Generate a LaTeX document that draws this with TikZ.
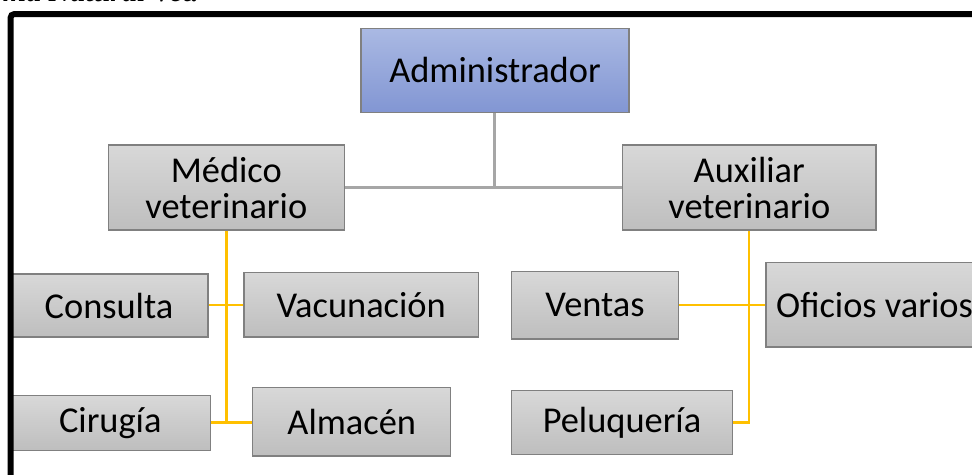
\documentclass[tikz,border=0pt]{standalone}
\usepackage{fontspec}
\setmainfont{Carlito}
\newfontfamily\capfont{Liberation Serif}
\definecolor{admtop}{RGB}{170,185,227}
\definecolor{admbot}{RGB}{130,150,211}
\definecolor{grytop}{RGB}{216,216,216}
\definecolor{grybot}{RGB}{190,190,190}
\definecolor{bordc}{RGB}{128,128,128}
\definecolor{linegray}{RGB}{166,166,166}
\definecolor{lineyel}{RGB}{255,192,0}
\tikzset{
  box/.style={draw=bordc, line width=1.3pt, inner sep=0pt, align=center,
    font=\fontsize{36.4}{36}\selectfont, text=black},
  graybox/.style={box, top color=grytop, bottom color=grybot},
  admbox/.style={box, top color=admtop, bottom color=admbot},
  grayline/.style={draw=linegray, line width=2.6pt},
  yelline/.style={draw=lineyel, line width=2.6pt},
}
\begin{document}
\begin{tikzpicture}[x=1pt,y=-1pt]
\useasboundingbox (0,0) rectangle (972,474);
\fill[white] (0,0) rectangle (972,474);
% caption (clipped at top)
\node[anchor=base east, inner sep=0pt, font=\capfont\bfseries\itshape\fontsize{30}{32}\selectfont] (cap) at (199,1.5) {ma Natural Vet.};
% boxes
\node[admbox, minimum width=268pt, minimum height=83.7pt] (adm) at (495,70.3) {Administrador};
\node[graybox, minimum width=236pt, minimum height=85pt] (med) at (226.3,187.5) {Médico\\veterinario};
\node[graybox, minimum width=253.3pt, minimum height=85pt] (aux) at (749.3,187.5) {Auxiliar\\veterinario};
\node[graybox, minimum width=198pt, minimum height=63pt] (con) at (109,305.5) {Consulta};
\node[graybox, minimum width=234.3pt, minimum height=64.3pt] (vac) at (361.2,304.9) {Vacunación};
\node[graybox, minimum width=200.7pt, minimum height=54.6pt] (cir) at (110.3,423) {Cirugía};
\node[graybox, minimum width=198pt, minimum height=68.7pt] (alm) at (351.7,421.7) {Almacén};
\node[graybox, minimum width=166.6pt, minimum height=67.3pt] (ven) at (595,305.3) {Ventas};
\node[graybox, minimum width=217pt, minimum height=84.3pt] (ofi) at (874.5,304.9) {Oficios varios};
\node[graybox, minimum width=220.6pt, minimum height=63.6pt] (pel) at (622,422.5) {Peluquería};
% coordinates
\coordinate (hub) at (494.3,187.7);
\coordinate (mv) at (226.7,305);
\coordinate (mb) at (226.7,422.3);
\coordinate (av) at (749,305);
\coordinate (ab) at (749,422.7);
% gray connectors
\draw[grayline] (adm.south -| hub) -- (hub);
\draw[grayline] (med.east |- hub) -- (aux.west |- hub);
% yellow connectors (medico)
\draw[yelline] (med.south -| mv) -- (mb);
\draw[yelline] (con.east |- mv) -- (vac.west |- mv);
\draw[yelline] (cir.east |- mb) -- (alm.west |- mb);
% yellow connectors (auxiliar)
\draw[yelline] (aux.south -| av) -- (ab) -- (pel.east |- ab);
\draw[yelline] (ven.east |- av) -- (ofi.west |- av);
% frame
\draw[black, line width=6pt, rounded corners=4pt] (10.5,490) -- (10.5,14) -- (990,14);
\end{tikzpicture}
\end{document}
